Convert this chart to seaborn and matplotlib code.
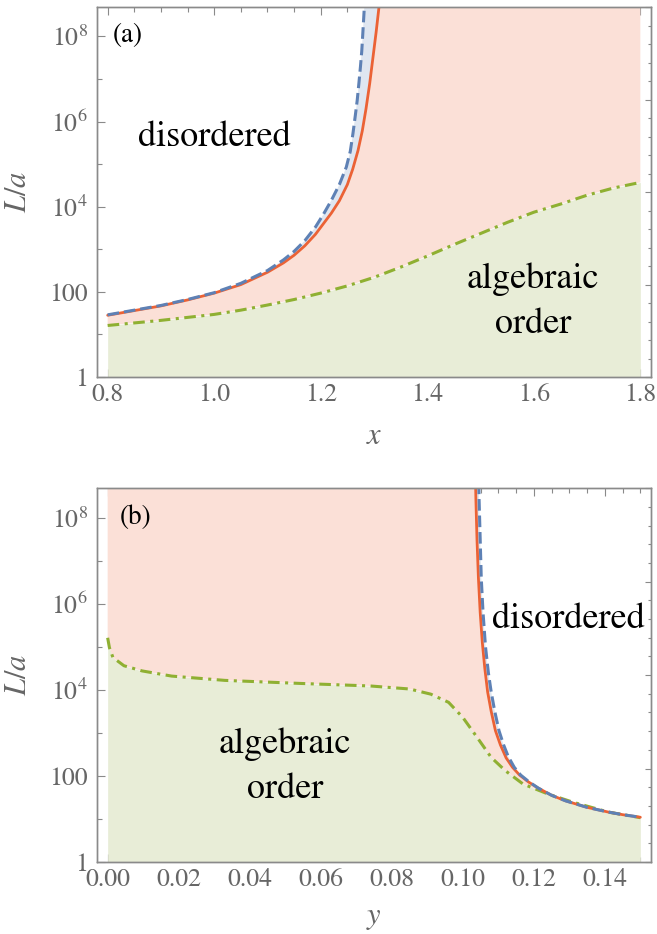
import numpy as np
import matplotlib
matplotlib.use("Agg")
import matplotlib.pyplot as plt
import seaborn as sns
from matplotlib.ticker import FixedLocator, FixedFormatter, MultipleLocator, FormatStrFormatter, NullFormatter

# ---------------- data, L/a given as log10 ----------------
# panel (a): horizontal variable x
a_blue_x = [0.80, 0.85, 0.90, 0.95, 1.00, 1.05, 1.10, 1.13, 1.15, 1.17, 1.19, 1.205, 1.22, 1.235, 1.248,
            1.2555, 1.2605, 1.265, 1.2685, 1.2715, 1.2745, 1.277, 1.279, 1.282, 1.284, 1.2855]
a_blue_logL = [1.46, 1.57, 1.68, 1.82, 1.98, 2.20, 2.50, 2.75, 2.95, 3.20, 3.52, 3.82, 4.15, 4.52, 4.93,
               5.30, 5.72, 6.15, 6.50, 6.88, 7.28, 7.65, 8.07, 8.72, 9.15, 9.50]
a_red_x = [0.80, 0.85, 0.90, 0.95, 1.00, 1.05, 1.10, 1.13, 1.15, 1.17, 1.19, 1.205, 1.22, 1.235, 1.25,
           1.26, 1.27, 1.278, 1.285, 1.292, 1.298, 1.304, 1.309, 1.313]
a_red_logL = [1.45, 1.56, 1.67, 1.81, 1.97, 2.17, 2.46, 2.68, 2.86, 3.08, 3.35, 3.60, 3.85, 4.14, 4.52,
              4.88, 5.32, 5.78, 6.30, 6.90, 7.50, 8.10, 8.65, 9.10]
a_green_x = [0.80, 0.85, 0.90, 0.95, 1.00, 1.05, 1.10, 1.15, 1.20, 1.25, 1.30, 1.35, 1.40, 1.45, 1.50,
             1.55, 1.60, 1.65, 1.70, 1.75, 1.80]
a_green_logL = [1.21, 1.27, 1.33, 1.40, 1.47, 1.57, 1.69, 1.82, 1.97, 2.14, 2.34, 2.58, 2.84, 3.11, 3.37,
                3.63, 3.87, 4.06, 4.27, 4.44, 4.57]

# panel (b): horizontal variable y
b_blue_y = [0.1044, 0.1046, 0.1049, 0.1052, 0.1057, 0.1064, 0.1072, 0.1080, 0.1090, 0.1102, 0.1115, 0.1128,
            0.1145, 0.1163, 0.1187, 0.1212, 0.125, 0.129, 0.135, 0.141, 0.145, 0.150]
b_blue_logL = [9.2, 8.4, 7.5, 6.6, 5.8, 5.0, 4.4, 3.95, 3.5, 3.05, 2.72, 2.45,
               2.2, 2.02, 1.86, 1.72, 1.55, 1.42, 1.27, 1.16, 1.10, 1.04]
b_red_y = [0.1035, 0.1037, 0.1040, 0.1044, 0.1049, 0.1055, 0.1062, 0.1070, 0.1080, 0.1092, 0.1106, 0.1122,
           0.1140, 0.1160, 0.1185, 0.1212, 0.125, 0.129, 0.135, 0.141, 0.145, 0.150]
b_red_logL = [9.2, 8.4, 7.5, 6.6, 5.8, 5.1, 4.5, 3.95, 3.5, 3.05, 2.72, 2.42,
              2.2, 2.02, 1.86, 1.72, 1.55, 1.42, 1.27, 1.16, 1.10, 1.04]
b_green_y = [0.0, 0.0005, 0.0015, 0.0046, 0.0097, 0.018, 0.033, 0.054, 0.074, 0.085, 0.091, 0.096, 0.100,
             0.104, 0.108, 0.112, 0.117, 0.124, 0.131, 0.141, 0.150]
b_green_logL = [5.21, 4.98, 4.75, 4.56, 4.44, 4.32, 4.22, 4.15, 4.09, 4.02, 3.90, 3.71, 3.36,
                2.90, 2.43, 2.12, 1.81, 1.58, 1.39, 1.16, 1.03]

ytick_vals = [1, 100, 1e4, 1e6, 1e8]
ytick_labels = ["1", "100", "$10^{4}$", "$10^{6}$", "$10^{8}$"]
region_labels = ["disordered", "algebraic", "order"]

# ---------------- style ----------------
BLUE = "#5E81B5"
RED = "#EB6235"
GREEN = "#8FB032"
F_BLUE = "#DFE6F0"
F_RED = "#FBE0D7"
F_GREEN = "#E8EDD7"
FRAME = "#8a8a8a"
TXT = "#666666"

sns.set_theme(style="ticks")
plt.rcParams.update({
    "font.family": ["STIXGeneral", "Liberation Serif", "DejaVu Serif"],
    "mathtext.fontset": "stix",
    "axes.edgecolor": FRAME,
    "axes.linewidth": 1.0,
    "xtick.color": FRAME,
    "ytick.color": FRAME,
    "xtick.labelcolor": TXT,
    "ytick.labelcolor": TXT,
})

TOP = 10 ** 8.69

fig = plt.figure(figsize=(6.57, 9.34), dpi=100)
axA = fig.add_axes([97 / 657, 1 - 377 / 934, 554 / 657, 370 / 934])
axB = fig.add_axes([97 / 657, 1 - 862 / 934, 554 / 657, 374 / 934])


def L(v):
    return 10 ** np.asarray(v, dtype=float)


def draw_panel(ax, bx, bl, rx, rl, gx, gl, x0, x1):
    ax.set_yscale("log")
    bx = np.asarray(bx); rx = np.asarray(rx); gx = np.asarray(gx)
    bL, rL, gL = L(bl), L(rl), L(gl)
    big = 1e10
    ax.fill_between(gx, 0.5, gL, color=F_GREEN, lw=0, zorder=1)
    if rL[0] > rL[-1]:
        px = np.concatenate([gx, rx[::-1], [rx[0], x0]])
        py = np.concatenate([gL, rL[::-1], [big, big]])
    else:
        px = np.concatenate([gx, [x1, rx[-1]], rx[::-1]])
        py = np.concatenate([gL, [big, big], rL[::-1]])
    ax.fill(px, py, color=F_RED, lw=0, zorder=1)
    ax.fill(np.concatenate([bx, rx[::-1]]), np.concatenate([bL, rL[::-1]]),
            color=F_BLUE, lw=0, zorder=1)
    sns.lineplot(x=gx, y=gL, ax=ax, color=GREEN, lw=2.2, estimator=None, sort=False,
                 linestyle=(0, (3.8, 1.8, 1.0, 1.8)), zorder=3)
    sns.lineplot(x=rx, y=rL, ax=ax, color=RED, lw=2.0, estimator=None, sort=False, zorder=4)
    sns.lineplot(x=bx, y=bL, ax=ax, color=BLUE, lw=2.2, estimator=None, sort=False,
                 linestyle=(0, (3.8, 1.6)), zorder=5)


def style_axes(ax, xlim, major, minor, fmt, xlabel, xlab_y):
    ax.set_xlim(*xlim)
    ax.set_ylim(1, TOP)
    ax.xaxis.set_major_locator(MultipleLocator(major))
    ax.xaxis.set_minor_locator(MultipleLocator(minor))
    ax.xaxis.set_major_formatter(FormatStrFormatter(fmt))
    ax.yaxis.set_major_locator(FixedLocator(ytick_vals))
    ax.yaxis.set_major_formatter(FixedFormatter(ytick_labels))
    ax.yaxis.set_minor_locator(FixedLocator([10, 1e3, 1e5, 1e7]))
    ax.yaxis.set_minor_formatter(NullFormatter())
    ax.tick_params(axis="x", which="both", direction="in", top=True, bottom=True, labelsize=18.5, pad=4)
    ax.tick_params(axis="y", which="both", direction="in", left=True, right=False, labelsize=18.5, pad=6.5)
    ax.tick_params(which="major", length=6, width=0.8)
    ax.tick_params(which="minor", length=3.5, width=0.8)
    for s in ax.spines.values():
        s.set_visible(True)
        s.set_color(FRAME)
        s.set_zorder(6)
    ax.set_xlabel(xlabel, fontsize=22, color=TXT)
    ax.set_ylabel("$L/a$", fontsize=22, color=TXT)
    ax.yaxis.set_label_coords(-0.115, 0.5)
    ax.xaxis.set_label_coords(0.5, xlab_y)
    ax.set_facecolor("white")
    tw = ax.twinx()
    tw.set_yscale("log")
    tw.set_ylim(1, TOP)
    tw.yaxis.set_major_locator(FixedLocator(np.exp([0, 5, 10, 15, 20])))
    tw.yaxis.set_minor_locator(FixedLocator(np.exp(np.arange(0, 21))))
    tw.yaxis.set_major_formatter(NullFormatter())
    tw.yaxis.set_minor_formatter(NullFormatter())
    tw.tick_params(axis="y", which="both", direction="in", right=True, left=False, width=0.8)
    tw.tick_params(which="major", length=4.5)
    tw.tick_params(which="minor", length=2.5)
    tw.grid(False)
    for s in tw.spines.values():
        s.set_color(FRAME)


# panel (a)
draw_panel(axA, a_blue_x, a_blue_logL, a_red_x, a_red_logL, a_green_x, a_green_logL, 0.8, 1.8)
style_axes(axA, (0.78, 1.82), 0.2, 0.05, "%.1f", "$x$", -0.125)
axA.text(1.0, 10 ** 5.42, region_labels[0], fontsize=26, ha="center", va="baseline", color="black")
axA.text(1.598, 10 ** 2.08, region_labels[1], fontsize=26, ha="center", va="baseline", color="black")
axA.text(1.598, 10 ** 1.03, region_labels[2], fontsize=26, ha="center", va="baseline", color="black")
axA.text(0.056, 0.924, "(a)", transform=axA.transAxes, fontsize=19.5, ha="center", va="center", color="black")

# panel (b)
draw_panel(axB, b_blue_y, b_blue_logL, b_red_y, b_red_logL, b_green_y, b_green_logL, 0.0, 0.15)
style_axes(axB, (-0.003, 0.153), 0.02, 0.005, "%.2f", "$y$", -0.112)
axB.text(0.1298, 10 ** 5.44, region_labels[0], fontsize=26, ha="center", va="baseline", color="black")
axB.text(0.0499, 10 ** 2.53, region_labels[1], fontsize=26, ha="center", va="baseline", color="black")
axB.text(0.0499, 10 ** 1.48, region_labels[2], fontsize=26, ha="center", va="baseline", color="black")
axB.text(0.0695, 0.922, "(b)", transform=axB.transAxes, fontsize=19.5, ha="center", va="center", color="black")

for ax in (axA, axB):
    leg = ax.get_legend()
    if leg is not None:
        leg.remove()

fig.savefig("out.png", dpi=100)
